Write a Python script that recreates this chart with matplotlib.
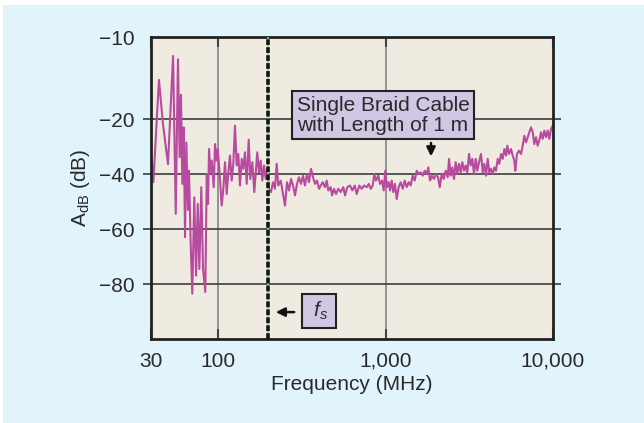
import numpy as np
import matplotlib
matplotlib.use("Agg")
import matplotlib.pyplot as plt
from matplotlib.patches import Rectangle

plt.rcParams["font.family"] = ["Liberation Sans", "DejaVu Sans"]
plt.rcParams["mathtext.fontset"] = "custom"
plt.rcParams["mathtext.rm"] = "Liberation Sans"
plt.rcParams["mathtext.it"] = "Liberation Sans:italic"

freq_mhz = [30.2, 31.3, 34.6, 37.2, 40.7, 44.6, 46.8, 48.7, 50.2, 51.4, 52.7, 54.0,
            55.3, 56.6, 58.3, 59.4, 61.2, 63.0, 65.3, 67.4, 69.5, 71.5, 74.1, 76.4,
            79.6, 81.7, 83.6, 85.1, 87.1, 89.3, 92.6, 94.8, 97.1, 99.5,
            101.8, 105.2, 107.6, 110.1, 112.7, 115.2, 117.9, 120.7, 123.4, 126.3,
            129.3, 132.2, 135.3, 138.5, 141.6, 144.9, 148.4, 152.5, 155.9, 160.3,
            164.7, 168.0, 171.6, 175.7, 179.8, 183.8, 188.2, 192.6, 196.9, 201.6,
            207.2, 213.0, 218.9, 224.1, 229.1, 236.8, 244.4, 251.2, 258.2, 265.4,
            272.8, 280.4, 288.2, 296.2, 304.5, 313.0, 321.7, 330.7, 339.9, 349.4,
            359.2, 369.2, 379.5, 390.0, 400.9,
            421.8, 435.3, 445.6, 455.5, 470.8, 479.3, 492.7, 506.4, 522.7, 540.2,
            560.0, 573.2, 591.6, 614.0, 633.6, 654.9, 673.2, 697.7, 721.1, 744.2,
            772.5, 794.0, 816.1, 838.9, 857.5, 877.4, 905.6, 927.1, 952.9, 975.6,
            997.2, 1021, 1045, 1064, 1089, 1113, 1139, 1167, 1199, 1232, 1267, 1302,
            1338, 1376, 1414, 1454, 1494, 1536, 1579, 1623, 1668, 1714, 1762, 1801,
            1844, 1895, 1948, 2002, 2058,
            2107, 2166, 2226, 2288, 2352, 2394, 2451, 2505, 2564, 2625, 2683, 2747,
            2812, 2874, 2942, 3012, 3079, 3152, 3226, 3298, 3376, 3456, 3533, 3617,
            3717, 3805, 3890, 3981, 4075, 4166, 4265, 4365, 4463, 4568, 4676, 4780,
            4893, 5009, 5121, 5241, 5336, 5462, 5615, 5747, 5875, 5956, 6097, 6266,
            6442, 6594, 6741, 6900, 7063, 7220, 7391, 7566, 7734, 7916, 8104, 8283,
            8480, 8680, 8874, 9083, 9298, 9506, 9730, 9959]
a_db = [-33.8, -42.9, -15.2, -21.7, -36.3, -12.3, -54.4, -12.7, -33.8, -17.0, -43.5, -22.9,
        -62.9, -28.4, -53.0, -38.7, -65.3, -83.5, -48.4, -76.9, -50.8, -74.5, -44.7, -74.5,
        -82.9, -39.9, -50.8, -30.8, -39.3, -35.0, -44.7, -29.0, -35.0, -30.8,
        -38.0, -51.4, -45.3, -35.6, -47.2, -39.3, -33.2, -42.3, -36.2, -22.3,
        -36.8, -32.6, -44.1, -34.4, -38.0, -32.0, -43.5, -27.4, -41.7, -35.6,
        -46.5, -39.3, -32.0, -39.3, -35.0, -42.3, -36.8, -41.7, -38.0, -45.3,
        -46.5, -42.9, -45.3, -36.2, -44.1, -42.3, -47.2, -51.4, -42.9, -45.9,
        -41.7, -44.1, -47.7, -43.5, -41.1, -43.5, -40.5, -44.1, -39.9, -42.9,
        -38.0, -41.1, -43.5, -42.3, -45.3,
        -42.9, -44.7, -42.3, -45.9, -44.7, -47.7, -45.3, -47.2, -45.3, -46.5,
        -44.7, -47.7, -44.7, -44.1, -45.9, -44.1, -47.2, -44.1, -45.3, -44.1,
        -44.7, -43.5, -45.3, -44.1, -39.9, -42.3, -40.5, -43.5, -42.3, -45.9,
        -38.7, -44.7, -42.9, -45.9, -42.3, -46.5, -43.5, -49.0, -44.7, -42.9, -45.3, -42.3,
        -44.7, -42.9, -44.1, -40.5, -42.3, -38.7, -39.9, -39.3, -40.5, -38.7, -39.9, -37.5,
        -42.3, -40.5, -41.7, -39.9, -41.1,
        -44.7, -39.9, -41.7, -38.7, -41.1, -34.4, -40.5, -37.5, -41.7, -35.6, -39.9, -36.2,
        -39.3, -35.6, -38.7, -36.8, -39.3, -32.6, -36.8, -34.4, -39.9, -34.4, -38.7, -35.6,
        -32.6, -39.3, -36.2, -40.5, -34.4, -39.3, -38.0, -39.9, -37.5, -38.7, -34.4, -36.2,
        -32.6, -34.4, -30.8, -33.2, -29.6, -32.6, -30.8, -33.2, -35.0, -38.7, -32.6, -31.4,
        -32.6, -29.6, -26.0, -28.4, -26.5, -24.7, -22.9, -24.7, -29.0, -26.5, -29.6, -27.7,
        -24.7, -27.1, -24.1, -26.5, -24.1, -27.1, -23.5, -22.3]

x_ticks = [30, 100, 1000, 10000]
x_labels = ["30", "100", "1,000", "10,000"]
y_ticks = [-10, -20, -40, -60, -80]
y_labels = ["\u221210", "\u221220", "\u221240", "\u221260", "\u221280"]
f_switch = 200  # MHz, dashed marker


# the original axes are drawn unevenly: 30-100 MHz is squeezed, -20..-10 dB stretched
def fx(x):
    lx = np.log10(np.maximum(np.asarray(x, dtype=float), 1e-9))
    return np.where(lx < 2, 2 - (2 - lx) * 0.765, lx)


def fx_inv(t):
    t = np.asarray(t, dtype=float)
    return 10 ** np.where(t < 2, 2 - (2 - t) / 0.765, t)


def fy(y):
    y = np.asarray(y, dtype=float)
    return np.where(y > -20, -20 + (y + 20) * 3.0, y)


def fy_inv(t):
    t = np.asarray(t, dtype=float)
    return np.where(t > -20, -20 + (t + 20) / 3.0, t)


fig = plt.figure(figsize=(6.44, 4.23), dpi=100, facecolor="white")
fig.patches.append(Rectangle((3 / 644, 0), 641 / 644, 418 / 423, transform=fig.transFigure,
                             facecolor="#e1f3fb", edgecolor="none", zorder=-10))
ax = fig.add_axes([151 / 644, 1 - 339 / 423, 402 / 644, 302 / 423])
ax.set_zorder(2)
ax.set_facecolor("#efebe0")
ax.set_xscale("function", functions=(fx, fx_inv))
ax.set_yscale("function", functions=(fy, fy_inv))
ax.set_xlim(30, 10000)
ax.set_ylim(-100, -10)

for v in [100, 1000]:
    ax.axvline(v, color="#8c8c8c", lw=1.3, zorder=1)
for v in [-20, -40, -60, -80]:
    ax.axhline(v, color="#3c3c3c", lw=1.2, zorder=1)

ax.plot(freq_mhz, a_db, color="#b84a9f", lw=1.5, zorder=2)

ax.axvline(f_switch, color="#7fdc86", lw=1.2, zorder=3)
ax.axvline(f_switch, color="#151515", lw=2.6, dashes=(1.6, 0.6), zorder=4)

ax.set_xticks(x_ticks)
ax.set_xticklabels(x_labels)
ax.set_yticks(y_ticks)
ax.set_yticklabels(y_labels)
ax.minorticks_off()
ax.tick_params(axis="x", direction="in", top=True, length=7, width=1.5, color="#444444",
               labelsize=15, labelcolor="#2a2a2a", pad=9)
ax.tick_params(axis="y", direction="out", right=True, length=6, width=1.2, color="#3c3c3c",
               labelsize=15, labelcolor="#2a2a2a", pad=6)
ax.yaxis.get_major_ticks()[0].tick1line.set_visible(False)
ax.yaxis.get_major_ticks()[0].tick2line.set_visible(False)
for s in ax.spines.values():
    s.set_linewidth(2)
    s.set_color("#222222")

ax.set_xlabel("Frequency (MHz)", fontsize=15, color="#2a2a2a", labelpad=3)
ax.set_ylabel(r"A$_{\mathrm{dB}}$ (dB)", fontsize=15, color="#2a2a2a", labelpad=5)

box = dict(boxstyle="square,pad=0.22", facecolor="#d0c7e4", edgecolor="#222222", lw=1.5)
ax.text(966, -19.5, "Single Braid Cable\nwith Length of 1 m", ha="center", va="center",
        fontsize=15, color="#2a2a2a", linespacing=1.05, bbox=box, zorder=6)
ax.annotate("", xy=(1869, -34.5), xytext=(1869, -27.6),
            arrowprops=dict(arrowstyle="-|>", color="#111111", lw=1.8, mutation_scale=13),
            zorder=6)

box2 = dict(boxstyle="square,pad=0.3", facecolor="#d0c7e4", edgecolor="#222222", lw=1.5)
ax.text(401, -89.8, r" $f_s$ ", ha="center", va="center", fontsize=15, color="#2a2a2a",
        bbox=box2, zorder=6)
ax.annotate("", xy=(213, -90.2), xytext=(296, -90.2),
            arrowprops=dict(arrowstyle="-|>", color="#111111", lw=1.8, mutation_scale=13),
            zorder=6)

fig.savefig("out.png", dpi=100, facecolor=fig.get_facecolor())
